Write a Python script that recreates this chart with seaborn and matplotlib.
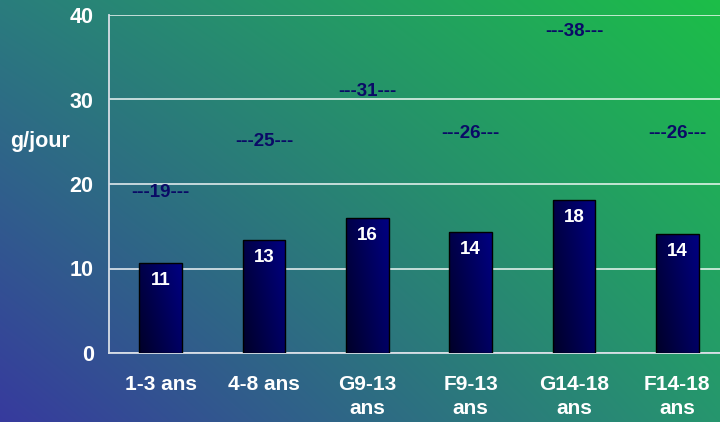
import numpy as np
import pandas as pd
import matplotlib
matplotlib.use("Agg")
import matplotlib.pyplot as plt
import seaborn as sns

# Fibre intake by age group (g/day): observed intake vs recommended level
categories = ["1-3 ans", "4-8 ans", "G9-13\nans", "F9-13\nans", "G14-18\nans", "F14-18\nans"]
intake = [10.6, 13.4, 16.0, 14.3, 18.1, 14.1]
recommended = [19, 25, 31, 26, 38, 26]
y_ticks = [0, 10, 20, 30, 40]
y_label = "g/jour"

df = pd.DataFrame({"groupe": categories, "apport": intake})

sns.set_theme(style="white")
plt.rcParams["font.family"] = ["Liberation Sans", "DejaVu Sans"]
plt.rcParams["font.weight"] = "bold"

W, H = 720, 422
fig = plt.figure(figsize=(W / 100, H / 100), dpi=100)

# Diagonal background gradient: blue-violet bottom-left to green top-right
bg_ax = fig.add_axes([0, 0, 1, 1], zorder=-10)
tl = np.array([42, 125, 125]) / 255
tr = np.array([28, 190, 72]) / 255
bl = np.array([55, 58, 158]) / 255
br = np.array([38, 150, 110]) / 255
yy, xx = np.mgrid[0:1:H * 1j, 0:1:W * 1j]
xx = xx[..., None]
yy = yy[..., None]
bg = (1 - yy) * ((1 - xx) * tl + xx * tr) + yy * ((1 - xx) * bl + xx * br)
bg_ax.imshow(bg, aspect="auto", extent=[0, 1, 0, 1], interpolation="bilinear")
bg_ax.set_axis_off()

ax = fig.add_axes([109 / W, 1 - 353 / H, 620 / W, 338 / H])
ax.set_facecolor("none")

sns.barplot(data=df, x="groupe", y="apport", ax=ax, width=0.41,
            color="#000070", edgecolor="#000000", linewidth=1.0, zorder=3)

# Navy gradient fill inside each bar
gx, gy = np.meshgrid(np.linspace(0, 1, 64), np.linspace(0, 1, 64))
t = 0.65 * gx + 0.35 * (1 - gy)
dark = np.array([0, 0, 40]) / 255
light = np.array([0, 0, 130]) / 255
grad = dark + (light - dark) * t[..., None]
for patch in ax.patches:
    x0, y0 = patch.get_x(), patch.get_y()
    w, h = patch.get_width(), patch.get_height()
    im = ax.imshow(grad, extent=[x0, x0 + w, y0, y0 + h], aspect="auto",
                   interpolation="bilinear", zorder=3.5)
    im.set_clip_path(patch)
    patch.set_facecolor("none")
    patch.set_zorder(4)

ax.set_xlim(-0.5, len(categories) - 0.5)
ax.set_ylim(0, 40)
ax.set_yticks(y_ticks)
ax.set_xlabel("")
ax.set_ylabel("")

ax.grid(axis="y", color="white", alpha=0.85, linewidth=1.2, zorder=1)
ax.grid(axis="x", visible=False)
ax.set_axisbelow(True)

for side in ["top", "right"]:
    ax.spines[side].set_visible(False)
for side in ["left", "bottom"]:
    ax.spines[side].set_color("#D8DEE6")
    ax.spines[side].set_linewidth(1.3)

ax.tick_params(axis="y", length=0, pad=11, labelsize=15.5, labelcolor="white")
ax.tick_params(axis="x", which="major", length=0, pad=16, labelsize=15, labelcolor="white")
ax.set_xticks(np.arange(-0.5, len(categories), 1.0), minor=True)
ax.tick_params(axis="x", which="minor", length=5, width=1.2, color="#D8DEE6", direction="out")
for lab in ax.get_xticklabels() + ax.get_yticklabels():
    lab.set_fontweight("bold")
    lab.set_linespacing(1.3)

# Value labels inside the bars
for i, v in enumerate(intake):
    ax.annotate(f"{v:.0f}", xy=(i, v), xytext=(0, -12.5), textcoords="offset points",
                ha="center", va="center", color="white", fontsize=13.5,
                fontweight="bold", zorder=6)

# Recommended intake markers
for i, r in enumerate(recommended):
    ax.annotate(f"---{r}---", xy=(i, r), xytext=(0, 0), textcoords="offset points",
                ha="center", va="center", color="#0A0A66", fontsize=13.5,
                fontweight="bold", zorder=6)

fig.text(10 / W, 1 - 142 / H, y_label, ha="left", va="center", color="white",
         fontsize=15.5, fontweight="bold")

fig.savefig("out.png", dpi=100)
